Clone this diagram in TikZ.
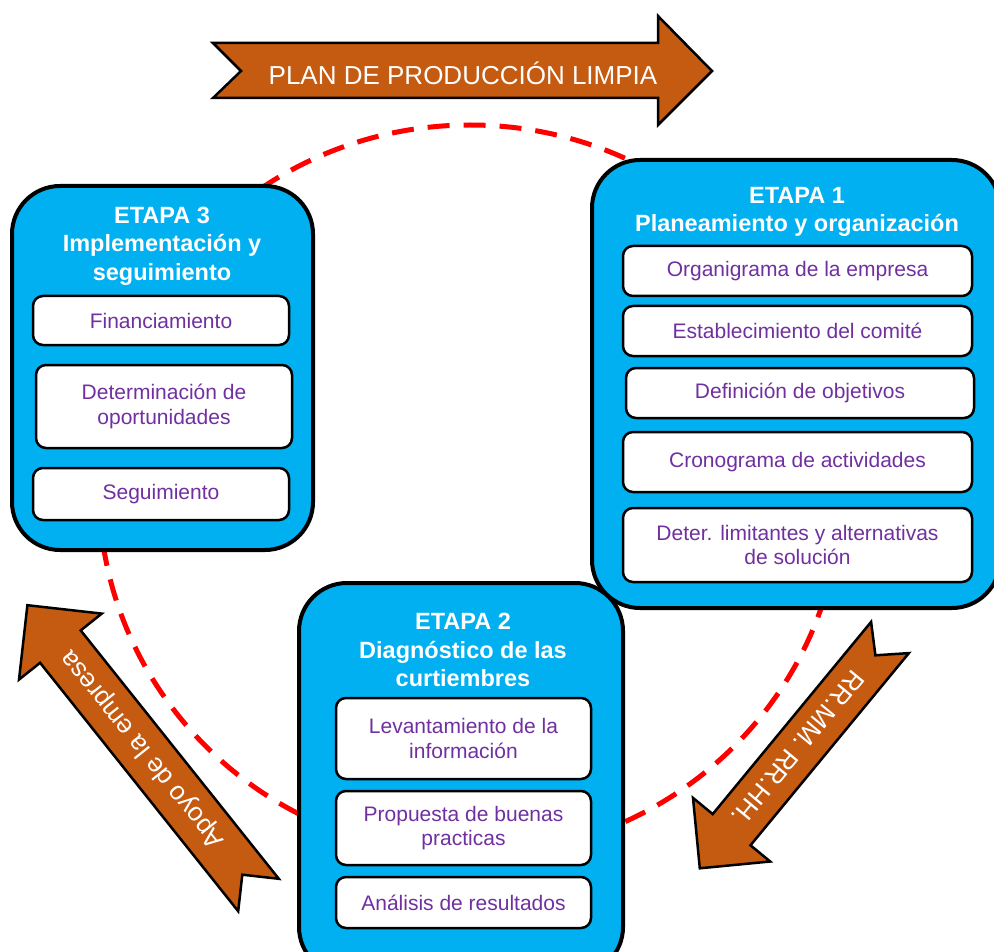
\documentclass[tikz,border=0pt]{standalone}
\usepackage{fontspec}
\setmainfont{Liberation Sans}
\definecolor{cyanc}{HTML}{00B0F0}
\definecolor{brownc}{HTML}{C55A11}
\definecolor{purplec}{HTML}{7030A0}
\definecolor{redc}{HTML}{FF0000}
\tikzset{
  etapa/.style={draw=black, line width=4pt, fill=cyanc, rounded corners=48pt, inner sep=0pt},
  subbox/.style={draw=black, line width=2.5pt, fill=white, rounded corners=10pt, inner sep=2pt,
    align=center, text=purplec, font=\fontsize{21}{24.5}\selectfont},
  head/.style={align=center, text=white, font=\fontsize{23.5}{28.5}\selectfont\bfseries, inner sep=0pt},
  bigarrow/.style={draw=black, line width=2.5pt, fill=brownc, line join=miter},
  arrowtext/.style={text=white, font=\fontsize{26}{30}\selectfont, inner sep=0pt},
  cycle/.style={draw=redc, line width=5pt, dash pattern=on 22pt off 14pt}
}
\begin{document}
\begin{tikzpicture}[x=1pt,y=-1pt]
\useasboundingbox (0,0) rectangle (994,952);
\fill[white] (0,0) rectangle (994,952);
\clip (0,0) rectangle (994,952);

% dashed cycle
\draw[cycle] (470,490) ellipse [x radius=371, y radius=365];

% top arrow
\coordinate (ta1) at (213,43);
\draw[bigarrow] (ta1) -- (658,43) -- (658,16) -- (712,71) -- (658,125) -- (658,98) -- (213,98) -- (241,71) -- cycle;
\node[arrowtext] (tat) at (463,73) {PLAN DE PRODUCCIÓN LIMPIA};

% right arrow
\draw[bigarrow] (871.1,621.9) -- (712.7,814.1) -- (693,797.9) -- (699.8,868.3) -- (770.2,861.5) -- (750.5,845.3) -- (908.9,653.1) -- (875.4,655.3) -- cycle;
\node[arrowtext, rotate=-129.5] (rat) at (798,748) {RR.MM. RR.HH.};

% left arrow
\draw[bigarrow] (278.8,878.8) -- (80.7,630.4) -- (101.8,613.6) -- (27.4,605.2) -- (19,679.6) -- (40.1,662.8) -- (238.2,911.2) -- (242.3,874.7) -- cycle;
\node[arrowtext, rotate=128.6] (lat) at (143,749) {Apoyo de la empresa};

% ETAPA 1
\node[etapa, minimum width=408pt, minimum height=448pt] (e1) at (796,384) {};
\node[head] (h1) at (797,212) {ETAPA 1\\Planeamiento y organización};
\node[subbox, minimum width=349pt, minimum height=50pt] (o1) at (797.5,271) {Organigrama de la empresa};
\node[subbox, minimum width=349pt, minimum height=50pt] (o2) at (797.5,331) {Establecimiento del comité};
\node[subbox, minimum width=348pt, minimum height=50pt] (o3) at (800,393) {Definición de objetivos};
\node[subbox, minimum width=349pt, minimum height=60pt] (o4) at (797.5,462) {Cronograma de actividades};
\node[subbox, minimum width=349pt, minimum height=74pt] (o5) at (797.5,545) {Deter. limitantes y alternativas\\de solución};

% ETAPA 3
\node[etapa, minimum width=301pt, minimum height=364pt] (e3) at (162.5,368) {};
\node[head] (h3) at (162,246) {ETAPA 3\\Implementación y\\seguimiento};
\node[subbox, minimum width=256pt, minimum height=49pt] (f1) at (161,320.5) {Financiamiento};
\node[subbox, minimum width=256pt, minimum height=83pt] (f2) at (164,406.5) {Determinación de\\oportunidades};
\node[subbox, minimum width=256pt, minimum height=52pt] (f3) at (161,494) {Seguimiento};

% ETAPA 2
\node[etapa, minimum width=324pt, minimum height=392pt] (e2) at (461,779) {};
\node[head] (h2) at (463,650) {ETAPA 2\\Diagnóstico de las\\curtiembres};
\node[subbox, minimum width=255pt, minimum height=81pt] (d1) at (463.5,738.5) {Levantamiento de la\\información};
\node[subbox, minimum width=255pt, minimum height=74pt] (d2) at (463.5,828) {Propuesta de buenas\\practicas};
\node[subbox, minimum width=255pt, minimum height=51pt] (d3) at (463.5,902.5) {Análisis de resultados};
\end{tikzpicture}
\end{document}
